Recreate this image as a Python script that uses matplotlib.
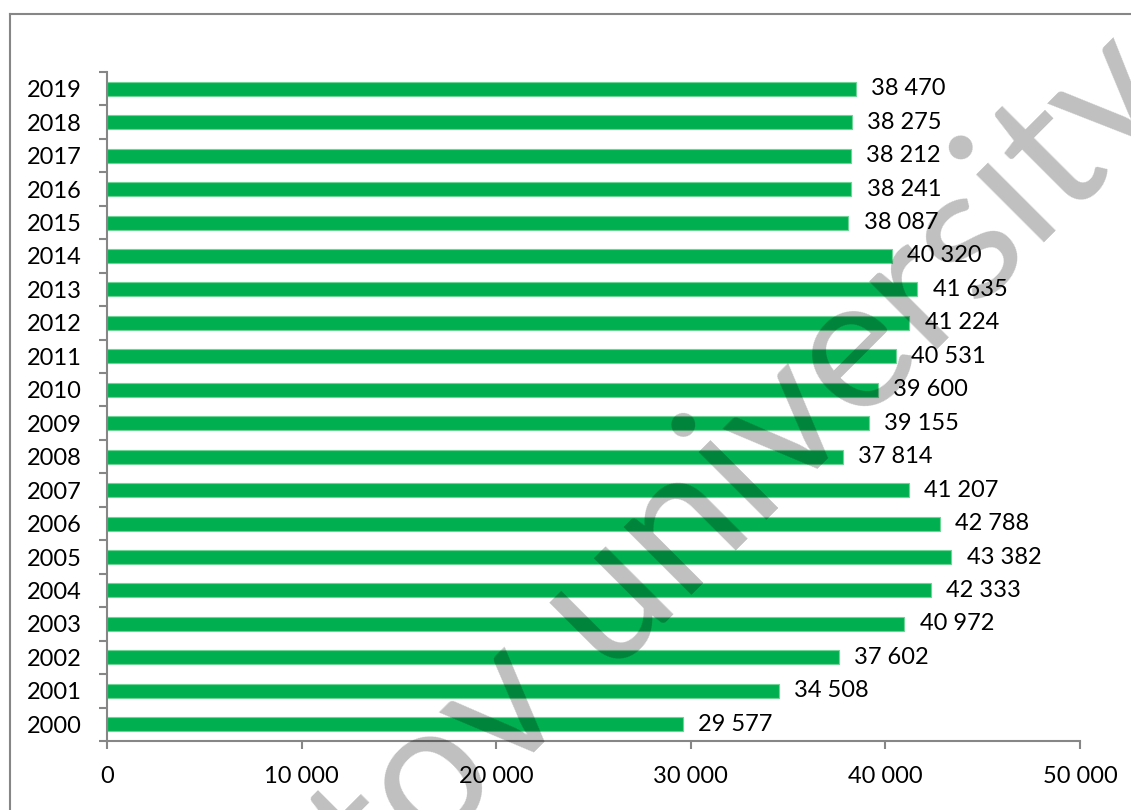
import numpy as np
import matplotlib.pyplot as plt
from matplotlib.lines import Line2D
from matplotlib.ticker import FixedLocator

plt.rcParams['font.family'] = ['Lato', 'DejaVu Sans']

years = [2000, 2001, 2002, 2003, 2004, 2005, 2006, 2007, 2008, 2009,
         2010, 2011, 2012, 2013, 2014, 2015, 2016, 2017, 2018, 2019]
values = [29577, 34508, 37602, 40972, 42333, 43382, 42788, 41207, 37814, 39155,
          39600, 40531, 41224, 41635, 40320, 38087, 38241, 38212, 38275, 38470]
xticks = [0, 10000, 20000, 30000, 40000, 50000]
watermark = "tov university"

def fmt(v):
    return f"{v:,}".replace(",", " ")

W, H = 1131, 810
fig = plt.figure(figsize=(W / 100, H / 100), dpi=100)
ax = fig.add_axes([0.0946, 0.0852, 0.8604, 0.8259])

pos = list(range(len(years)))
ax.barh(pos, values, height=0.42, color='#00B050', edgecolor='#6fd596', linewidth=0.8, zorder=2)

for p, v in zip(pos, values):
    ax.annotate(fmt(v), (v, p), xytext=(11, 0), textcoords='offset points',
                ha='left', va='center', fontsize=17, color='black')

ax.set_xlim(0, 50000)
ax.set_ylim(-0.5, len(years) - 0.5)
ax.set_xticks(xticks)
ax.set_xticklabels([fmt(t) for t in xticks], fontsize=17)
ax.set_yticks(pos)
ax.set_yticklabels([str(y) for y in years], fontsize=17)
ax.yaxis.set_minor_locator(FixedLocator([p - 0.5 for p in pos] + [len(years) - 0.5]))

grey = '#868686'
for s in ['top', 'right']:
    ax.spines[s].set_visible(False)
for s in ['left', 'bottom']:
    ax.spines[s].set_color(grey)
    ax.spines[s].set_linewidth(1.5)
ax.tick_params(axis='y', which='major', length=0, pad=18)
ax.tick_params(axis='y', which='minor', length=6, width=1.5, color=grey, direction='out')
ax.tick_params(axis='x', which='major', length=6, width=1.5, color=grey, direction='out', pad=12)

# chart frame
fig.add_artist(Line2D([0.0088, 0.0088], [0, 0.9827], color=grey, lw=1.5, transform=fig.transFigure))
fig.add_artist(Line2D([0.0088, 1], [0.9827, 0.9827], color=grey, lw=1.5, transform=fig.transFigure))

# watermark: fit so the two "v" sit where they are in the source image
renderer = fig.canvas.get_renderer()
def width(s, size=100):
    t = fig.text(0, 0, s, fontsize=size)
    w = t.get_window_extent(renderer).width
    t.remove()
    return w

ang = 45.0
v1 = np.array([540.0, 747.0])   # pixel, from top-left
v2 = np.array([827.0, 467.0])
d100 = width("tov uni") - width("to")
size = 100 * np.hypot(*(v2 - v1)) / d100
off = (width("to", size) + width("v", size) / 2)
along = np.array([np.cos(np.radians(ang)), -np.sin(np.radians(ang))])
start = v1 - off * along
fig.text(start[0] / W, 1 - start[1] / H, watermark, fontsize=size, color='black', alpha=0.25,
         rotation=ang, ha='left', va='baseline', rotation_mode='anchor', zorder=10)

fig.savefig("out.png", dpi=100)
